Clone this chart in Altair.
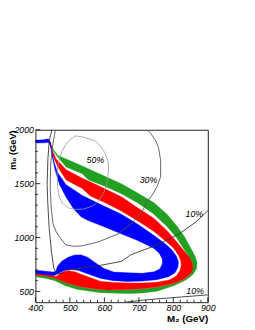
import altair as alt
import pandas as pd

X_DOMAIN = [400, 900]
Y_DOMAIN = [400, 2000]

# Colored bands: closed boundary (M2, m0) in GeV, outer edge then inner edge
GREEN_BAND = [
    (436, 1911), (442, 1882), (451, 1821), (465, 1761), (489, 1730), (536, 1664), (582, 1596),
    (649, 1500), (695, 1416), (743, 1325), (781, 1218), (809, 1112), (832, 1009), (849, 909),
    (863, 827), (869, 764), (867, 709), (856, 655), (836, 605), (803, 555), (752, 502),
    (710, 486), (668, 480), (590, 488), (523, 518), (485, 555), (457, 600), (428, 623),
    (400, 636),
    (400, 655), (428, 645), (457, 623), (485, 585), (523, 545), (561, 525), (608, 512),
    (668, 516), (710, 522), (752, 539), (801, 571), (833, 616), (850, 662), (856, 709),
    (856, 755), (848, 809), (829, 900), (809, 1000), (781, 1105), (743, 1218), (695, 1325),
    (648, 1409), (601, 1476), (553, 1536), (536, 1591), (489, 1655), (461, 1761),
    (446, 1836), (440, 1891),
]
RED_BAND = [
    (438, 1904), (444, 1873), (448, 1818), (460, 1730), (489, 1630), (536, 1550), (582, 1482),
    (649, 1379), (695, 1279), (743, 1179), (781, 1066), (809, 964), (832, 873), (848, 809),
    (856, 755), (857, 709), (850, 664), (833, 618), (801, 573), (752, 541), (710, 525),
    (668, 518), (608, 514), (561, 527), (523, 547), (485, 584), (457, 621), (428, 643),
    (400, 653),
    (400, 668), (451, 650), (459, 636), (476, 675), (495, 691), (514, 682), (542, 647),
    (590, 593), (627, 582), (668, 579), (710, 577), (752, 585), (788, 606), (808, 641),
    (819, 691), (823, 746), (821, 791), (813, 846), (801, 900), (781, 959), (743, 1059),
    (695, 1157), (648, 1248), (601, 1325), (559, 1386), (536, 1455), (489, 1534),
    (465, 1655), (451, 1755), (445, 1827), (441, 1873),
]
BLUE_BAND = [
    (400, 1903), (423, 1907), (434, 1914), (440, 1909), (444, 1882), (447, 1809), (454, 1700),
    (465, 1600), (489, 1491), (536, 1391), (582, 1318), (648, 1218), (695, 1127), (743, 1021),
    (781, 930), (798, 877), (809, 827), (815, 773), (813, 723), (805, 673), (786, 636),
    (752, 609), (710, 596), (668, 591), (627, 600), (590, 620), (551, 664), (523, 697),
    (504, 703), (485, 697), (471, 673), (459, 652), (452, 648), (400, 666),
    (400, 697), (452, 679), (459, 688), (464, 734), (476, 779), (495, 818), (514, 839),
    (533, 839), (551, 818), (575, 764), (599, 712), (627, 679), (668, 673), (710, 668),
    (744, 682), (761, 709), (768, 755), (768, 800), (759, 855), (743, 900),
    (695, 975), (648, 1036), (601, 1097), (553, 1157), (533, 1191), (511, 1264), (489, 1373),
    (470, 1491), (457, 1627), (448, 1764), (444, 1855), (438, 1882), (423, 1879), (400, 1877),
]

# Efficiency contours
CONTOUR_10_UPPER = [
    (448, 2000), (440, 1900), (436, 1718), (434, 1491), (436, 1309), (440, 1082), (447, 855),
    (453, 718), (460, 668), (474, 664), (489, 697), (536, 718), (584, 739), (650, 779),
    (676, 839), (752, 930), (818, 1036), (866, 1146), (900, 1248),
]
CONTOUR_10_LOWER = [(661, 400), (724, 423), (795, 441), (866, 459), (900, 468)]
CONTOUR_30 = [
    (458, 2000), (450, 1855), (444, 1673), (443, 1446), (446, 1264), (451, 1127), (460, 1055),
    (471, 1000), (488, 932), (511, 918), (536, 923), (584, 961), (641, 1036), (681, 1136),
    (710, 1246), (725, 1336), (739, 1397), (753, 1473), (763, 1564), (763, 1718),
    (757, 1836), (749, 1897), (735, 1964), (725, 2000),
]
CONTOUR_50 = [
    (517, 1943), (539, 1932), (574, 1897), (591, 1839), (603, 1776), (611, 1700), (612, 1625),
    (610, 1564), (607, 1503), (598, 1412), (582, 1336), (565, 1291), (539, 1264), (517, 1261),
    (497, 1273), (478, 1318), (468, 1385), (464, 1491), (463, 1627), (468, 1716), (477, 1800),
    (488, 1864), (502, 1914), (517, 1943),
]

LABELS = [("50%", 574, 1718), ("30%", 728, 1534), ("10%", 861, 1218), ("10%", 863, 506)]

X_TICKS = [400, 500, 600, 700, 800, 900]
Y_TICKS = [500, 1000, 1500, 2000]
X_MINOR = [v for v in range(400, 901, 20) if v % 100]
Y_MINOR = [v for v in range(500, 2001, 100) if v % 500]

FONT = "Liberation Sans"


def df_of(points):
    return pd.DataFrame({"x": [p[0] for p in points], "y": [p[1] for p in points],
                         "i": list(range(len(points)))})


xs = alt.Scale(domain=X_DOMAIN, nice=False, zero=False)
ys = alt.Scale(domain=Y_DOMAIN, nice=False, zero=False)

x_axis = alt.Axis(values=X_TICKS, format="d", grid=False, ticks=False, tickSize=0, domain=False,
                  labelFont=FONT, labelFontSize=9, labelFontStyle="italic", labelColor="black",
                  labelPadding=2, labelFlush=False, labelOverlap=False, labelBound=False,
                  title="M₂ (GeV)", titleFont=FONT, titleFontSize=10, titleFontWeight="bold",
                  titleColor="black", titleAnchor="end", titleAlign="right", titleX=176, titleY=20,
                  titleBaseline="alphabetic")
y_axis = alt.Axis(values=Y_TICKS, format="d", grid=False, ticks=False, tickSize=0, domain=False,
                  labelFont=FONT, labelFontSize=9, labelFontStyle="italic", labelColor="black",
                  labelPadding=2, labelFlush=False, labelOverlap=False, labelBound=False,
                  title="m₀ (GeV)", titleFont=FONT, titleFontSize=9.5, titleFontWeight="bold",
                  titleColor="black", titleAngle=270, titleAlign="right", titleBaseline="top",
                  titleX=-28, titleY=0)


def X(field):
    return alt.X(field, scale=xs, axis=x_axis)


def Y(field):
    return alt.Y(field, scale=ys, axis=y_axis)


def band(points, color):
    return alt.Chart(df_of(points)).mark_line(fill=color, stroke=color, strokeWidth=0.4,
                                              clip=True).encode(
        x=X("x:Q"), y=Y("y:Q"), order="i:Q")


def contour(points, color, width):
    return alt.Chart(df_of(points)).mark_line(color=color, strokeWidth=width, clip=True).encode(
        x=X("x:Q"), y=Y("y:Q"), order="i:Q")


def yticks(vals, length):
    return alt.Chart(pd.DataFrame({"v": vals})).mark_rule(color="black", strokeWidth=0.8).encode(
        y=Y("v:Q"), x=alt.value(0), x2=alt.value(length))


def xticks(vals, length):
    return alt.Chart(pd.DataFrame({"v": vals})).mark_rule(color="black", strokeWidth=0.8).encode(
        x=X("v:Q"), y=alt.value(176), y2=alt.value(176 - length))


labels = alt.Chart(pd.DataFrame({"t": [l[0] for l in LABELS], "x": [l[1] for l in LABELS],
                                 "y": [l[2] for l in LABELS]})).mark_text(
    font=FONT, fontSize=9, fontStyle="italic", color="black").encode(
    x=X("x:Q"), y=Y("y:Q"), text="t:N")

chart = alt.layer(
    band(GREEN_BAND, "#22a022"),
    band(RED_BAND, "#ff0000"),
    band(BLUE_BAND, "#0000ff"),
    contour(CONTOUR_50, "#999999", 0.8),
    contour(CONTOUR_30, "#555555", 0.9),
    contour(CONTOUR_10_UPPER, "#333333", 0.9),
    contour(CONTOUR_10_LOWER, "#333333", 0.9),
    labels,
    yticks(Y_TICKS, 5), yticks(Y_MINOR, 2.5),
    xticks(X_TICKS, 5), xticks(X_MINOR, 2.5),
).properties(
    width=176, height=176,
    autosize=alt.AutoSizeParams(type="none"),
    padding={"left": 28, "top": 121, "right": 40, "bottom": 22},
).configure_view(stroke="#222222", strokeWidth=1).configure_axis(labelOverlap=False)

chart.save("out.html", embed_options={"renderer": "svg", "actions": False})
